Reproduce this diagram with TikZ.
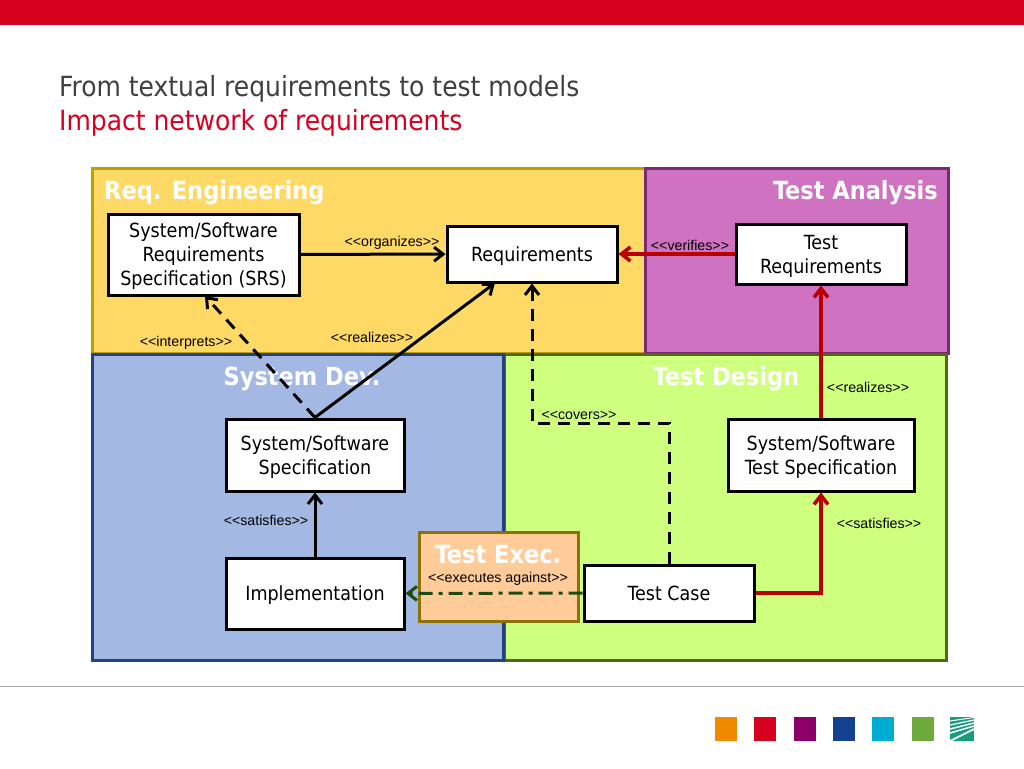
\documentclass[tikz,border=0pt]{standalone}
\usepackage{fontspec}
\setmainfont{DejaVu Sans Condensed}
\newfontfamily\labelfont{Liberation Sans}
\usetikzlibrary{arrows.meta,calc}
\definecolor{slidered}{HTML}{D6001F}
\definecolor{reqfill}{HTML}{FFD966}
\definecolor{reqedge}{HTML}{BF9F00}
\definecolor{anafill}{HTML}{CF72C1}
\definecolor{anaedge}{HTML}{7A2A72}
\definecolor{devfill}{HTML}{A3B8E3}
\definecolor{devedge}{HTML}{24427F}
\definecolor{desfill}{HTML}{CFFF7F}
\definecolor{desedge}{HTML}{4F6A10}
\definecolor{exefill}{HTML}{FFCC99}
\definecolor{exeedge}{HTML}{8A7208}
\definecolor{arrowred}{HTML}{B80000}
\definecolor{arrowgreen}{HTML}{1F4A10}
\definecolor{logogreen}{HTML}{179C7D}
\begin{document}
\begin{tikzpicture}[
		x=1pt,y=-1pt,
		>={Straight Barb[length=9pt,width=14pt]},
		panel/.style={draw,line width=3pt,anchor=north west,inner sep=0pt},
		heading/.style={text=white,inner sep=0pt,font=\fontsize{25}{28}\selectfont\bfseries},
		item/.style={draw=black,fill=white,line width=3pt,align=center,inner sep=0pt,text depth=0pt,
			font=\fontsize{19.5}{24}\selectfont},
		relation/.style={font=\labelfont\fontsize{14.2}{16}\selectfont,inner sep=0pt},
		link/.style={->,line width=3pt},
		redlink/.style={link,draw=arrowred,line width=3.6pt},
		dashlink/.style={link,dash pattern=on 12pt off 8pt},
		swatch/.style={minimum width=22pt,minimum height=24pt,inner sep=0pt,anchor=north west}
	]
	\useasboundingbox (0,0) rectangle (1024,768);
	\fill[slidered] (0,0) rectangle (1024,25);
	\draw[black!35,line width=1pt] (0,686.5) -- (1024,686.5);
	\node[anchor=west,inner sep=0pt,text=black!75,font=\fontsize{27.8}{32}\selectfont] (title) at (59,89) {From textual requirements to test models};
	\node[anchor=west,inner sep=0pt,text=slidered,font=\fontsize{27.8}{32}\selectfont] (subtitle) at (59,123) {Impact network of requirements};
	% panels
	\node[panel,fill=reqfill,draw=reqedge,minimum width=553pt,minimum height=185pt] (reqpanel) at (91,167) {};
	\node[panel,fill=anafill,draw=anaedge,minimum width=303pt,minimum height=185pt] (anapanel) at (643.5,167) {};
	\node[panel,fill=desfill,draw=desedge,minimum width=442pt,minimum height=306pt] (despanel) at (503,352.5) {};
	\node[panel,fill=devfill,draw=devedge,minimum width=411pt,minimum height=306pt] (devpanel) at (91,352.5) {};
	\node[panel,fill=exefill,draw=exeedge,minimum width=159pt,minimum height=89pt] (exepanel) at (417.5,530.5) {};
	\node[heading,anchor=west] at (104,193) {Req. Engineering};
	\node[heading,anchor=east] at (938,193) {Test Analysis};
	\node[heading] at (302,379) {System Dev.};
	\node[heading] at (726,379) {Test Design};
	\node[heading] at (498,555) {Test Exec.};
	% model elements
	\node[item,minimum width=191pt,minimum height=81pt] (srs) at (203.5,254.5) {System/Software\\Requirements\\Specification (SRS)};
	\node[item,minimum width=170pt,minimum height=56pt] (requirements) at (532,254) {Requirements};
	\node[item,minimum width=170pt,minimum height=60pt] (testreq) at (821,254) {Test\\Requirements};
	\node[item,minimum width=178pt,minimum height=72pt] (sysspec) at (315,455) {System/Software\\Specification};
	\node[item,minimum width=186pt,minimum height=72pt] (testspec) at (821,455) {System/Software\\Test Specification};
	\node[item,minimum width=178pt,minimum height=71pt] (impl) at (315,593.5) {Implementation};
	\node[item,minimum width=170pt,minimum height=56pt] (testcase) at (669,593) {Test Case};
	% connectors
	\coordinate (srsin) at (205,296);
	\coordinate (reqin) at (495,283);
	\coordinate (covera) at (669,423);
	\coordinate (coverb) at (532,423);
	\draw[link] (srs) -- (requirements);
	\draw[dashlink] (sysspec.north) -- (srsin);
	\draw[link] (sysspec.north) -- (reqin);
	\draw[dashlink] (testcase.north) -- (covera) -- (coverb) -- (requirements.south);
	\draw[link] (impl) -- (sysspec);
	\draw[redlink] (testreq) -- (requirements);
	\draw[redlink] (testspec) -- (testreq);
	\draw[redlink] (testcase.east) -| (testspec.south);
	\draw[link,draw=arrowgreen,dash pattern=on 14pt off 6pt on 4pt off 6pt] (testcase) -- (impl);
	% stereotypes
	\node[relation] at (392,243) {<{}<organizes>{}>};
	\node[relation] at (186,343) {<{}<interprets>{}>};
	\node[relation] at (372,337) {<{}<realizes>{}>};
	\node[relation] at (690,245) {<{}<verifies>{}>};
	\node[relation] at (868,387) {<{}<realizes>{}>};
	\node[relation] at (579,415) {<{}<covers>{}>};
	\node[relation] at (266,520) {<{}<satisfies>{}>};
	\node[relation] at (879,523) {<{}<satisfies>{}>};
	\node[relation] at (498,579) {<{}<executes against>{}>};
	% footer marks
	\node[swatch,fill={rgb,255:red,240;green,138;blue,0}] (mark1) at (715,717) {};
	\node[swatch,fill=slidered] (mark2) at (754,717) {};
	\node[swatch,fill={rgb,255:red,140;green,0;blue,105}] (mark3) at (793.5,717) {};
	\node[swatch,fill={rgb,255:red,20;green,65;blue,145}] (mark4) at (833,717) {};
	\node[swatch,fill={rgb,255:red,0;green,172;blue,210}] (mark5) at (872,717) {};
	\node[swatch,fill={rgb,255:red,110;green,170;blue,60}] (mark6) at (911.5,717) {};
	\node[swatch,fill=logogreen,minimum width=24pt] (mark7) at (950,717) {};
	\foreach \ya/\yb/\w in {721/717.5/1,725/720/1.2,729/723/1.5,733/726/1.5,741/729/1.8}{
		\draw[white,line width=\w pt] (950,\ya) -- (974,\yb);
	}
\end{tikzpicture}
\end{document}
